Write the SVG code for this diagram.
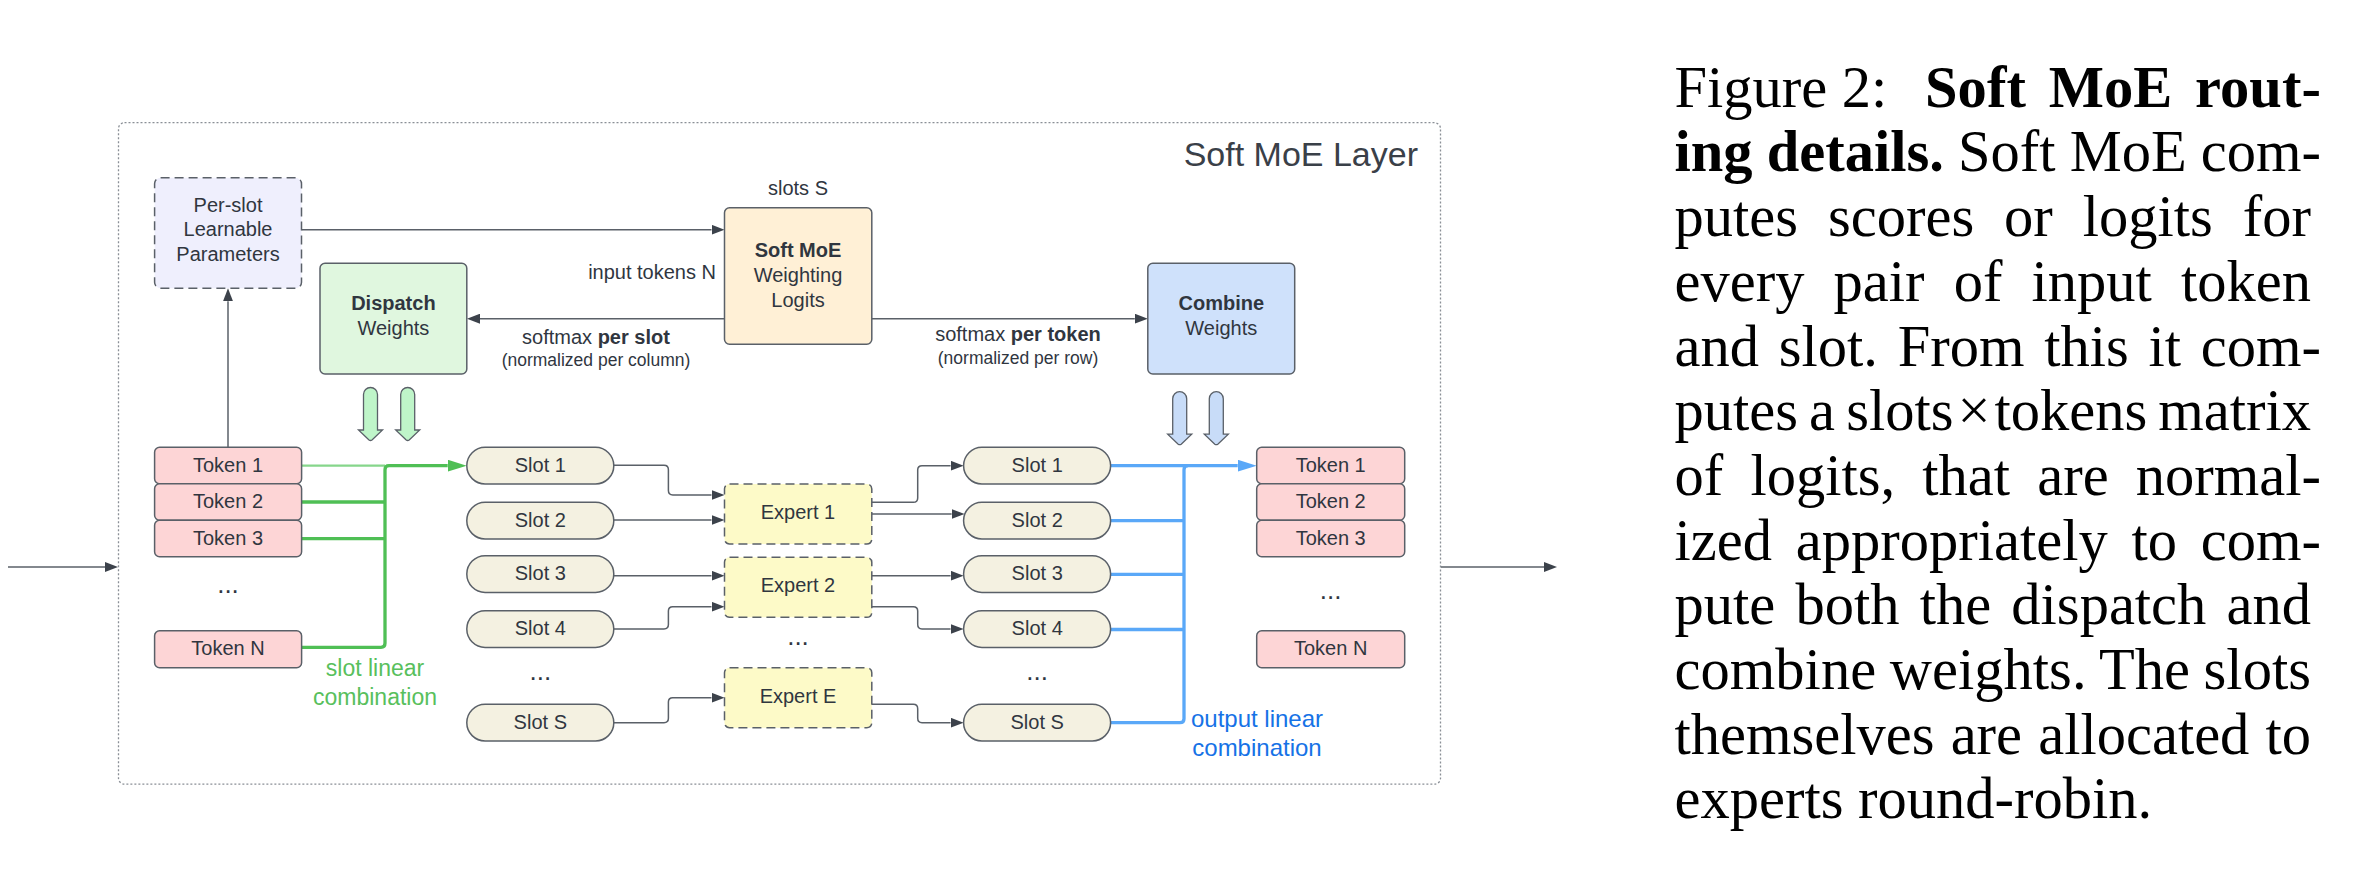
<svg xmlns="http://www.w3.org/2000/svg" width="2378" height="874" viewBox="0 0 2378 874">
<style>
.lbl{font-family:"Liberation Sans",Arial,sans-serif;font-size:20px;fill:#30363f;text-anchor:middle}
.b{font-weight:bold}
.sm{font-size:17.5px}
.dots{font-family:"Liberation Sans",Arial,sans-serif;font-size:26px;fill:#30363f;text-anchor:middle}
.box{stroke:#5a6068;stroke-width:1.5}
.dash{stroke-dasharray:9,5}
.tok{fill:#fdd5d6}
.slot{fill:#f4f1e1}
.exp{fill:#fdfac8}
.conn{fill:none;stroke:#5a6068;stroke-width:1.5}
.g{fill:none;stroke:#4fbf55;stroke-width:3.3}
.bl{fill:none;stroke:#5aa8f8;stroke-width:3.3}
.cap{font-family:"Liberation Serif","Times New Roman",serif;font-size:58.5px;fill:#000}
</style>
<defs>
<marker id="ah" viewBox="0 -5 13 10" markerWidth="13" markerHeight="10" refX="0" refY="0" orient="auto" markerUnits="userSpaceOnUse">
<path d="M0,-5 L13,0 L0,5 Z" fill="#3c424b"/>
</marker>
<marker id="ahg" viewBox="0 -6 19 12" markerWidth="19" markerHeight="12" refX="0" refY="0" orient="auto" markerUnits="userSpaceOnUse">
<path d="M0,-6 L19,0 L0,6 Z" fill="#4fbf55"/>
</marker>
<marker id="ahb" viewBox="0 -6 19 12" markerWidth="19" markerHeight="12" refX="0" refY="0" orient="auto" markerUnits="userSpaceOnUse">
<path d="M0,-6 L19,0 L0,6 Z" fill="#5aa8f8"/>
</marker>
<path id="down" d="M-7,42.5 V7 A7,7 0 0 1 7,7 V42.5 H12 L1.5,52.5 Q0,53.5 -1.5,52.5 L-12,42.5 Z" stroke="#5a6068" stroke-width="1.3"/>
</defs>

<g id="layer">
<rect x="118.5" y="122.7" width="1322" height="661.5" rx="6" fill="none" stroke="#8a8f96" stroke-width="1.3" stroke-dasharray="2,2"/>
<text x="1418" y="165.5" style="font-family:'Liberation Sans',Arial,sans-serif;font-size:34px;fill:#3a4048;text-anchor:end">Soft MoE Layer</text>
</g>

<g id="connectors">
<path class="conn" d="M8,567 H105" marker-end="url(#ah)"/>
<path class="conn" d="M1441,567 H1544" marker-end="url(#ah)"/>
<path class="conn" d="M301.5,229.7 H711.5" marker-end="url(#ah)"/>
<path class="conn" d="M228,447.3 V301.3" marker-end="url(#ah)"/>
<path class="conn" d="M724.5,318.7 H480" marker-end="url(#ah)"/>
<path class="conn" d="M871.8,318.7 H1134.8" marker-end="url(#ah)"/>
<path class="conn" d="M613.8,465.3 H664 Q668.4,465.3 668.4,469.7 V490.6 Q668.4,495 672.8,495 H711.5" marker-end="url(#ah)"/>
<path class="conn" d="M613.8,520 H711.5" marker-end="url(#ah)"/>
<path class="conn" d="M613.8,575.7 H711.5" marker-end="url(#ah)"/>
<path class="conn" d="M613.8,629 H664 Q668.4,629 668.4,624.6 V611 Q668.4,606.7 672.8,606.7 H711.5" marker-end="url(#ah)"/>
<path class="conn" d="M613.8,722.7 H664 Q668.4,722.7 668.4,718.3 V702 Q668.4,697.7 672.8,697.7 H711.5" marker-end="url(#ah)"/>
<path class="conn" d="M871.8,502.3 H913.3 Q917.7,502.3 917.7,497.9 V470 Q917.7,465.7 922,465.7 H950.6" marker-end="url(#ah)"/>
<path class="conn" d="M871.8,514 H951.6" marker-end="url(#ah)"/>
<path class="conn" d="M871.8,575.7 H950.6" marker-end="url(#ah)"/>
<path class="conn" d="M871.8,606.7 H913.3 Q917.7,606.7 917.7,611 V624.6 Q917.7,629 922,629 H950.6" marker-end="url(#ah)"/>
<path class="conn" d="M871.8,704.3 H913.3 Q917.7,704.3 917.7,708.7 V718.3 Q917.7,722.7 922,722.7 H950.6" marker-end="url(#ah)"/>
<path d="M301.5,465.7 H385" fill="none" stroke="#86d68b" stroke-width="2.2"/>
<path class="g" d="M301.5,502 H385"/>
<path class="g" d="M301.5,538.7 H385"/>
<path class="g" d="M301.5,647.3 H381 Q385,647.3 385,643.3 V469.7 Q385,465.7 389,465.7 H447.7" marker-end="url(#ahg)"/>
<path class="bl" d="M1110.7,465.7 H1237.7" marker-end="url(#ahb)"/>
<path class="bl" d="M1110.7,520.7 H1184"/>
<path class="bl" d="M1110.7,574.3 H1184"/>
<path class="bl" d="M1110.7,629.5 H1184"/>
<path class="bl" d="M1110.7,722.7 H1180 Q1184,722.7 1184,718.7 V469.7 Q1184,465.7 1188,465.7"/>
<use href="#down" x="370.5" y="387.5" fill="#bff5c9"/>
<use href="#down" x="407.7" y="387.5" fill="#bff5c9"/>
<use href="#down" x="1179.7" y="391.7" fill="#c8dcf8"/>
<use href="#down" x="1216.3" y="391.7" fill="#c8dcf8"/>
</g>

<g id="perslot">
<rect class="box dash" x="154.6" y="177.7" width="146.9" height="110.6" rx="6" fill="#efeffd"/>
<text class="lbl" x="228" y="211.5">Per-slot</text>
<text class="lbl" x="228" y="236.2">Learnable</text>
<text class="lbl" x="228" y="260.9">Parameters</text>
</g>
<g id="softmoe">
<text class="lbl" x="798" y="194.5">slots S</text>
<text class="lbl" x="716" y="278.9" style="text-anchor:end">input tokens N</text>
<rect class="box" x="724.5" y="207.7" width="147.3" height="136.6" rx="5" fill="#fff0d6"/>
<text class="lbl b" x="798" y="257.2">Soft MoE</text>
<text class="lbl" x="798" y="282.2">Weighting</text>
<text class="lbl" x="798" y="306.5">Logits</text>
</g>
<g id="dispatch">
<rect class="box" x="320" y="263.3" width="146.8" height="110.7" rx="5" fill="#e0f7df"/>
<text class="lbl b" x="393.4" y="309.9">Dispatch</text>
<text class="lbl" x="393.4" y="334.9">Weights</text>
<text class="lbl" x="596" y="344">softmax <tspan class="b">per slot</tspan></text>
<text class="lbl sm" x="596" y="366.3">(normalized per column)</text>
</g>
<g id="combine">
<rect class="box" x="1147.8" y="263.3" width="146.9" height="110.7" rx="5" fill="#cfe1fb"/>
<text class="lbl b" x="1221.3" y="309.9">Combine</text>
<text class="lbl" x="1221.3" y="334.9">Weights</text>
<text class="lbl" x="1018" y="340.8">softmax <tspan class="b">per token</tspan></text>
<text class="lbl sm" x="1018" y="363.6">(normalized per row)</text>
</g>

<g id="tokens-in">
<rect class="box tok" x="154.6" y="447.3" width="147" height="36.5" rx="5"/>
<text class="lbl" x="228" y="471.5">Token 1</text>
<rect class="box tok" x="154.6" y="483.8" width="147" height="36.5" rx="5"/>
<text class="lbl" x="228" y="508">Token 2</text>
<rect class="box tok" x="154.6" y="520.3" width="147" height="36.5" rx="5"/>
<text class="lbl" x="228" y="544.5">Token 3</text>
<text class="dots" x="228" y="593">...</text>
<rect class="box tok" x="154.6" y="630.7" width="147" height="37" rx="5"/>
<text class="lbl" x="228" y="655.2">Token N</text>
<text x="375" y="676" style="font-family:'Liberation Sans',Arial,sans-serif;font-size:23px;fill:#58c05c;text-anchor:middle">slot linear</text>
<text x="375" y="705" style="font-family:'Liberation Sans',Arial,sans-serif;font-size:23px;fill:#58c05c;text-anchor:middle">combination</text>
</g>

<g id="slots-in">
<rect class="box slot" x="466.8" y="447.3" width="147" height="36.7" rx="18.3"/>
<text class="lbl" x="540.3" y="471.7">Slot 1</text>
<rect class="box slot" x="466.8" y="502.3" width="147" height="36.7" rx="18.3"/>
<text class="lbl" x="540.3" y="526.7">Slot 2</text>
<rect class="box slot" x="466.8" y="555.7" width="147" height="36.7" rx="18.3"/>
<text class="lbl" x="540.3" y="580">Slot 3</text>
<rect class="box slot" x="466.8" y="610.7" width="147" height="36.7" rx="18.3"/>
<text class="lbl" x="540.3" y="635">Slot 4</text>
<text class="dots" x="540.3" y="680">...</text>
<rect class="box slot" x="466.8" y="704.3" width="147" height="36.7" rx="18.3"/>
<text class="lbl" x="540.3" y="728.7">Slot S</text>
</g>

<g id="experts">
<rect class="box dash exp" x="724.5" y="484" width="147.3" height="60" rx="5"/>
<text class="lbl" x="798" y="519">Expert 1</text>
<rect class="box dash exp" x="724.5" y="557.3" width="147.3" height="60" rx="5"/>
<text class="lbl" x="798" y="592.3">Expert 2</text>
<text class="dots" x="798" y="645">...</text>
<rect class="box dash exp" x="724.5" y="667.7" width="147.3" height="60" rx="5"/>
<text class="lbl" x="798" y="702.7">Expert E</text>
</g>

<g id="slots-out">
<rect class="box slot" x="963.6" y="447.3" width="147" height="36.7" rx="18.3"/>
<text class="lbl" x="1037.2" y="471.7">Slot 1</text>
<rect class="box slot" x="963.6" y="502.3" width="147" height="36.7" rx="18.3"/>
<text class="lbl" x="1037.2" y="526.7">Slot 2</text>
<rect class="box slot" x="963.6" y="555.7" width="147" height="36.7" rx="18.3"/>
<text class="lbl" x="1037.2" y="580">Slot 3</text>
<rect class="box slot" x="963.6" y="610.7" width="147" height="36.7" rx="18.3"/>
<text class="lbl" x="1037.2" y="635">Slot 4</text>
<text class="dots" x="1037.2" y="680">...</text>
<rect class="box slot" x="963.6" y="704.3" width="147" height="36.7" rx="18.3"/>
<text class="lbl" x="1037.2" y="728.7">Slot S</text>
</g>

<g id="tokens-out">
<rect class="box tok" x="1256.7" y="447.3" width="148" height="36.5" rx="5"/>
<text class="lbl" x="1330.7" y="471.5">Token 1</text>
<rect class="box tok" x="1256.7" y="483.8" width="148" height="36.5" rx="5"/>
<text class="lbl" x="1330.7" y="508">Token 2</text>
<rect class="box tok" x="1256.7" y="520.3" width="148" height="36.5" rx="5"/>
<text class="lbl" x="1330.7" y="544.5">Token 3</text>
<text class="dots" x="1330.7" y="599">...</text>
<rect class="box tok" x="1256.7" y="630.7" width="148" height="37" rx="5"/>
<text class="lbl" x="1330.7" y="655.2">Token N</text>
<text x="1257" y="726.5" style="font-family:'Liberation Sans',Arial,sans-serif;font-size:24px;fill:#1672e6;text-anchor:middle">output linear</text>
<text x="1257" y="755.5" style="font-family:'Liberation Sans',Arial,sans-serif;font-size:24px;fill:#1672e6;text-anchor:middle">combination</text>
</g>

<g id="caption">
<text class="cap" x="1674.5" y="106.7">Figure 2:</text>
<text class="cap" x="1925" y="106.7" font-weight="bold" word-spacing="7.95" textLength="396" lengthAdjust="spacing">Soft MoE rout-</text>
<text class="cap" x="1674.5" y="171.4" word-spacing="-0.45" textLength="646.5" lengthAdjust="spacing"><tspan font-weight="bold">ing details.</tspan> Soft MoE com-</text>
<text class="cap" x="1674.5" y="236.1" word-spacing="15.3" textLength="636.5" lengthAdjust="spacing">putes scores or logits for</text>
<text class="cap" x="1674.5" y="300.8" word-spacing="14.55" textLength="636.5" lengthAdjust="spacing">every pair of input token</text>
<text class="cap" x="1674.5" y="365.5" word-spacing="5.2" textLength="646.5" lengthAdjust="spacing">and slot. From this it com-</text>
<text class="cap" x="1674.5" y="430.2" word-spacing="-3.5" textLength="636.5" lengthAdjust="spacing">putes a slots<tspan dx="4">×</tspan><tspan dx="4">tokens</tspan> matrix</text>
<text class="cap" x="1674.5" y="494.9" word-spacing="12.6" textLength="646.5" lengthAdjust="spacing">of logits, that are normal-</text>
<text class="cap" x="1674.5" y="559.6" word-spacing="9.2" textLength="646.5" lengthAdjust="spacing">ized appropriately to com-</text>
<text class="cap" x="1674.5" y="624.3" word-spacing="5.6" textLength="636.5" lengthAdjust="spacing">pute both the dispatch and</text>
<text class="cap" x="1674.5" y="689" word-spacing="-1.2" textLength="636.5" lengthAdjust="spacing">combine weights. The slots</text>
<text class="cap" x="1674.5" y="753.7" word-spacing="1.5" textLength="636.5" lengthAdjust="spacing">themselves are allocated to</text>
<text class="cap" x="1674.5" y="818.4">experts round-robin.</text>
</g>
</svg>
